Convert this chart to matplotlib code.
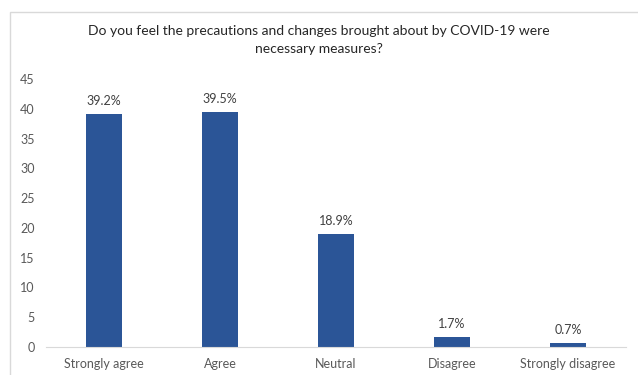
import matplotlib
matplotlib.use("Agg")
import matplotlib.pyplot as plt
from matplotlib.patches import Rectangle

categories = ["Strongly agree", "Agree", "Neutral", "Disagree", "Strongly disagree"]
values = [39.2, 39.5, 18.9, 1.7, 0.7]
labels = ["39.2%", "39.5%", "18.9%", "1.7%", "0.7%"]
yticks = [0, 5, 10, 15, 20, 25, 30, 35, 40, 45]

plt.rcParams['font.family'] = ['Lato', 'DejaVu Sans']

W, H = 638, 375
fig = plt.figure(figsize=(W / 100, H / 100), dpi=100)
fig.patches.append(Rectangle((10 / W, -0.1), 1.0, (H - 12) / H + 0.1,
                             transform=fig.transFigure, fill=False,
                             edgecolor='#d9d9d9', linewidth=1))

ax = fig.add_axes([46 / W, 1 - 347 / H, (626 - 46) / W, (347 - 79) / H])
x = range(len(categories))
bars = ax.bar(x, values, width=0.31, color='#2B5597')
for b, lab in zip(bars, labels):
    ax.annotate(lab, (b.get_x() + b.get_width() / 2, b.get_height()),
                xytext=(0, 5), textcoords='offset points',
                ha='center', va='bottom', fontsize=9, color='#404040')

ax.set_xlim(-0.5, len(categories) - 0.5)
ax.set_ylim(0, 45)
ax.set_yticks(yticks)
ax.set_xticks(list(x))
ax.set_xticklabels(categories)
ax.tick_params(axis='both', length=0, labelsize=9, colors='#595959')
ax.tick_params(axis='y', pad=8)
ax.tick_params(axis='x', pad=8)
for s in ['top', 'right', 'left']:
    ax.spines[s].set_visible(False)
ax.spines['bottom'].set_color('#d9d9d9')

fig.text(0.5, 1 - 40 / H,
         "Do you feel the precautions and changes brought about by COVID-19 were\nnecessary measures?",
         ha='center', va='center', fontsize=10, color='#262626', linespacing=1.6)

fig.savefig("out.png", dpi=100)
